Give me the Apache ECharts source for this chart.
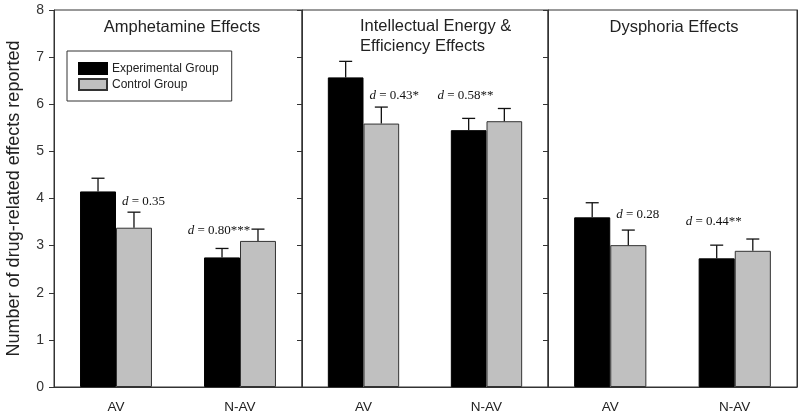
<!DOCTYPE html>
<html>
<head>
<meta charset="utf-8">
<script src="https://cdn.jsdelivr.net/npm/echarts@6/dist/echarts.min.js"></script>
<style>html,body{margin:0;padding:0;background:#fff;}#c{width:800px;height:416px;}</style>
</head>
<body>
<div id="c"></div>
<script>
const categories = ['AV', 'N-AV'];
const panelTitles = ['Amphetamine Effects', 'Intellectual Energy &\nEfficiency Effects', 'Dysphoria Effects'];
const yTicks = [0, 1, 2, 3, 4, 5, 6, 7, 8];
// means per panel [AV, N-AV]
const experimental = [[4.15, 2.75], [6.57, 5.45], [3.60, 2.73]];
const experimentalSE = [[0.28, 0.19], [0.34, 0.25], [0.31, 0.28]];
const control = [[3.38, 3.10], [5.59, 5.64], [3.01, 2.89]];
const controlSE = [[0.33, 0.25], [0.35, 0.27], [0.32, 0.25]];
const effectSizes = [['0.35', '0.80***'], ['0.43*', '0.58**'], ['0.28', '0.44**']];
const effectLevel = [[3.93, 3.31], [6.18, 6.18], [3.65, 3.50]];

const FONT = '"Liberation Sans", Arial, sans-serif';
const SERIF = '"Liberation Serif", "Times New Roman", serif';
const AXIS_COLOR = '#333';
const GRAY = '#c0c0c0';
const CAT_GAP = 0.42;

const gridLefts = [54, 302, 548];
const gridWidths = [248, 246, 249];

const grids = [], xAxes = [], yAxes = [], series = [];

function errorRender(sign) {
  return function (params, api) {
    const c = api.value(0), m = api.value(1), e = api.value(2);
    const base = api.coord([c, m]);
    const top = api.coord([c, m + e]);
    const band = api.size([1, 0])[0];
    const bw = band * (1 - CAT_GAP) / 2;
    const x = base[0] + sign * bw / 2;
    const st = { stroke: '#111', lineWidth: 1.3 };
    return {
      type: 'group',
      children: [
        { type: 'line', shape: { x1: x, y1: base[1], x2: x, y2: top[1] }, style: st },
        { type: 'line', shape: { x1: x - 6.5, y1: top[1], x2: x + 6.5, y2: top[1] }, style: st }
      ]
    };
  };
}

for (let p = 0; p < 3; p++) {
  grids.push({ left: gridLefts[p], width: gridWidths[p], top: 10, height: 377, show: true, borderColor: AXIS_COLOR, borderWidth: 1, backgroundColor: 'transparent' });
  xAxes.push({
    type: 'category', gridIndex: p, data: categories,
    axisLine: { lineStyle: { color: AXIS_COLOR } },
    axisTick: { alignWithLabel: true, length: 5, lineStyle: { color: AXIS_COLOR } },
    axisLabel: { fontFamily: FONT, fontSize: 13.5, color: '#222', margin: 13 }
  });
  yAxes.push({
    type: 'value', gridIndex: p, min: 0, max: 8, interval: 1, position: 'left',
    splitLine: { show: false },
    axisLine: { show: p === 0, lineStyle: { color: AXIS_COLOR } },
    axisTick: { show: p === 0, length: 5, lineStyle: { color: AXIS_COLOR } },
    axisLabel: { show: p === 0, fontFamily: FONT, fontSize: 14, color: '#333', margin: 10,
      formatter: v => yTicks.indexOf(v) >= 0 ? String(v) : '' },
    name: p === 0 ? 'Number of drug-related effects reported' : '',
    nameLocation: 'middle', nameGap: 31,
    nameTextStyle: { fontFamily: FONT, fontSize: 18, color: '#222' }
  });
  yAxes.push({
    type: 'value', gridIndex: p, min: 0, max: 8, interval: 1, position: 'right',
    splitLine: { show: false },
    axisLine: { show: true, lineStyle: { color: AXIS_COLOR } },
    axisTick: { show: p < 2, inside: true, length: 5, lineStyle: { color: AXIS_COLOR } },
    axisLabel: { show: false }
  });
  const yi = p * 2;
  series.push({
    name: 'Experimental Group', type: 'bar', xAxisIndex: p, yAxisIndex: yi,
    data: experimental[p], barGap: '0%', barCategoryGap: (CAT_GAP * 100) + '%',
    itemStyle: { color: '#000', borderColor: '#000', borderWidth: 1 }, silent: true
  });
  series.push({
    name: 'Control Group', type: 'bar', xAxisIndex: p, yAxisIndex: yi,
    data: control[p], barGap: '0%', barCategoryGap: (CAT_GAP * 100) + '%',
    itemStyle: { color: GRAY, borderColor: '#333', borderWidth: 1 }, silent: true
  });
  series.push({
    type: 'custom', xAxisIndex: p, yAxisIndex: yi, silent: true, z: 5,
    renderItem: errorRender(-1),
    encode: { x: 0, y: 1 },
    data: experimental[p].map((m, i) => [i, m, experimentalSE[p][i]])
  });
  series.push({
    type: 'custom', xAxisIndex: p, yAxisIndex: yi, silent: true, z: 5,
    renderItem: errorRender(1),
    encode: { x: 0, y: 1 },
    data: control[p].map((m, i) => [i, m, controlSE[p][i]])
  });
  series.push({
    type: 'custom', xAxisIndex: p, yAxisIndex: yi, silent: true, z: 6,
    encode: { x: 0, y: 1 },
    data: effectSizes[p].map((t, i) => [i, effectLevel[p][i]]),
    renderItem: function (params, api) {
      const c = api.value(0);
      const pt = api.coord([c, api.value(1)]);
      const txt = effectSizes[p][c];
      const isAV = c === 0;
      return {
        type: 'text',
        x: isAV ? pt[0] + 6 : pt[0] - 21,
        y: pt[1],
        style: {
          text: '{i|d} = ' + txt,
          fill: '#111',
          font: '13px ' + SERIF,
          align: isAV ? 'left' : 'center',
          verticalAlign: 'middle',
          rich: { i: { fontStyle: 'italic', fontFamily: SERIF, fontSize: 13, fill: '#111' } }
        }
      };
    }
  });
}

const option = {
  animation: false,
  backgroundColor: '#fff',
  title: [
    { text: panelTitles[0], left: 177, top: 14, textAlign: 'center', textStyle: { fontFamily: FONT, fontSize: 16.5, fontWeight: 'normal', color: '#222' } },
    { text: panelTitles[1], left: 355, top: 11, textStyle: { fontFamily: FONT, fontSize: 16.5, fontWeight: 'normal', color: '#222', lineHeight: 20 } },
    { text: panelTitles[2], left: 669, top: 14, textAlign: 'center', textStyle: { fontFamily: FONT, fontSize: 16.5, fontWeight: 'normal', color: '#222' } }
  ],
  legend: {
    left: 67, top: 51, orient: 'vertical',
    data: ['Experimental Group', 'Control Group'],
    itemWidth: 28, itemHeight: 11, itemGap: 3,
    icon: 'rect',
    padding: [11, 13, 10, 11],
    borderColor: '#333', borderWidth: 1, backgroundColor: '#fff',
    textStyle: { fontFamily: FONT, fontSize: 12, color: '#222' },
    selectedMode: false
  },
  grid: grids,
  xAxis: xAxes,
  yAxis: yAxes,
  series: series
};

const chart = echarts.init(document.getElementById('c'), null, { renderer: 'canvas' });
chart.setOption(option);
</script>
</body>
</html>
